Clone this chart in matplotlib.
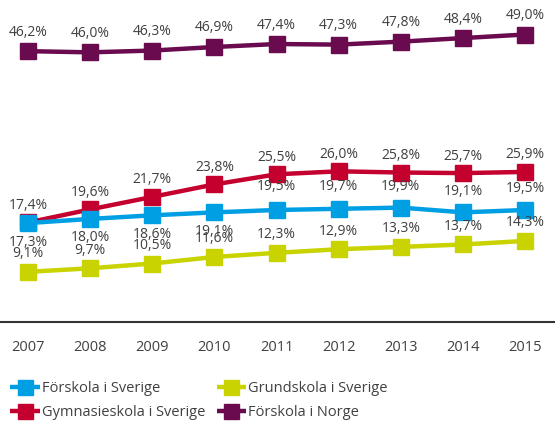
import matplotlib
matplotlib.use("Agg")
import matplotlib.pyplot as plt

years = [2007, 2008, 2009, 2010, 2011, 2012, 2013, 2014, 2015]
forskola_se = [17.3, 18.0, 18.6, 19.1, 19.5, 19.7, 19.9, 19.1, 19.5]
gymnasie_se = [17.4, 19.6, 21.7, 23.8, 25.5, 26.0, 25.8, 25.7, 25.9]
grundskola_se = [9.1, 9.7, 10.5, 11.6, 12.3, 12.9, 13.3, 13.7, 14.3]
forskola_no = [46.2, 46.0, 46.3, 46.9, 47.4, 47.3, 47.8, 48.4, 49.0]

names = ["Förskola i Sverige", "Gymnasieskola i Sverige",
         "Grundskola i Sverige", "Förskola i Norge"]
colors = ["#009FE3", "#C4002F", "#C8D300", "#6A0A4F"]

plt.rcParams['font.family'] = ['Open Sans', 'DejaVu Sans']
txt_col = "#404040"

fig = plt.figure(figsize=(5.55, 4.21), dpi=100)
ax = fig.add_axes([0, 99/421, 1, 322/421])

def fmt(v):
    return ("%.1f%%" % v).replace(".", ",")

series = [
    (grundskola_se, 2, [18]*9),
    (gymnasie_se, 1, [17]*9),
    (forskola_se, 0, [-19, -19, -19, -19, 23, 22, 21, 21, 21]),
    (forskola_no, 3, [19]*9),
]
handles = {}
for vals, ci, offs in series:
    h, = ax.plot(years, vals, color=colors[ci], lw=3.2, marker="s",
                 markersize=12, solid_capstyle="butt", label=names[ci])
    handles[ci] = h
    for x, v, o in zip(years, vals, offs):
        ax.annotate(fmt(v), (x, v), xytext=(0, o*0.72), textcoords="offset points",
                    ha="center", va="center", fontsize=10, color=txt_col)

ax.set_xlim(2006.55, 2015.48)
ax.set_ylim(0.67, 54.8)
ax.set_yticks([])
ax.set_xticks(years)
ax.tick_params(axis="x", length=0, pad=13, labelsize=10.5, labelcolor=txt_col)
for s in ["top", "left", "right"]:
    ax.spines[s].set_visible(False)
ax.spines["bottom"].set_color("#333333")
ax.spines["bottom"].set_linewidth(1.5)

leg = fig.legend([handles[i] for i in range(4)], [names[i] for i in range(4)],
                 ncol=2, loc="lower left", bbox_to_anchor=(0.003, -0.018),
                 frameon=False, fontsize=10.5, handlelength=2.0, handletextpad=0.15,
                 columnspacing=0.8, labelspacing=0.6, borderaxespad=0.2,
                 labelcolor=txt_col, markerscale=0.9)

fig.savefig("out.png", dpi=100)
